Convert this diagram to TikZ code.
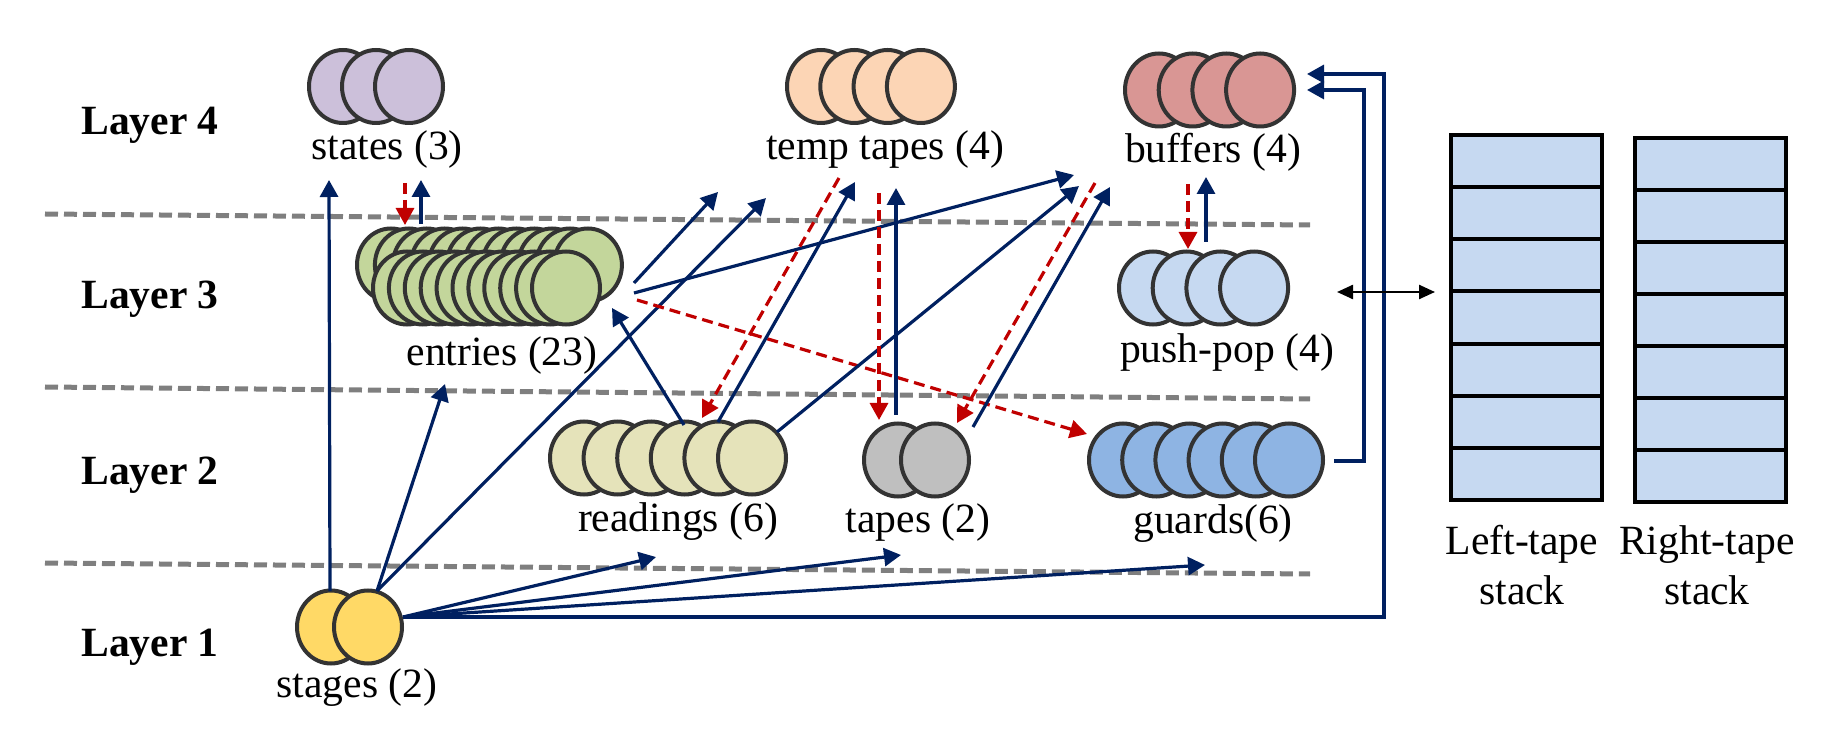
\documentclass[tikz,border=0pt]{standalone}
\usepackage{fontspec}
\setmainfont{Liberation Serif}
\usetikzlibrary{arrows.meta}

\definecolor{navy}{HTML}{002060}
\definecolor{darkred}{HTML}{C00000}
\definecolor{sepgray}{HTML}{7F7F7F}
\definecolor{edgegray}{HTML}{333333}
\definecolor{stackblue}{HTML}{C6D9F1}
\definecolor{cstates}{HTML}{CCC0DA}
\definecolor{ctemp}{HTML}{FCD5B5}
\definecolor{cbuf}{HTML}{D99694}
\definecolor{centry}{HTML}{C3D69B}
\definecolor{cpush}{HTML}{C6D9F1}
\definecolor{cread}{HTML}{E5E3BA}
\definecolor{ctape}{HTML}{BFBFBF}
\definecolor{cguard}{HTML}{8EB4E3}
\definecolor{cstage}{HTML}{FFD966}

\tikzset{
  ball/.style={draw=edgegray, line width=2pt, fill=#1},
  lbl/.style={font=\fontsize{20.8}{25}\selectfont, inner sep=0pt},
  layer/.style={font=\fontsize{20.8}{25}\selectfont\bfseries, inner sep=0pt},
  flow/.style={draw=navy, line width=1.6pt, -{Triangle[length=8.5pt,width=9pt]}},
  back/.style={draw=darkred, line width=1.6pt, dash pattern=on 5.5pt off 3pt, -{Triangle[length=8.5pt,width=9pt]}},
  sep/.style={draw=sepgray, line width=2.5pt, dash pattern=on 6.5pt off 3pt},
  cell/.style={draw=black, line width=2pt, fill=stackblue},
}

% row of overlapping circles: count, first x, y, step, fill
\newcommand{\balls}[5]{%
  \foreach \k in {1,...,#1}
    \draw[ball=#5] ({#2+#4*(\k-1)},#3) ellipse [x radius=17pt, y radius=18.25pt];
}

\begin{document}
\begin{tikzpicture}[x=0.5pt, y=-0.5pt]
\useasboundingbox (0,0) rectangle (1847,753);

% layer names
\node[layer] (L4) at (150,125) {Layer 4};
\node[layer] (L3) at (150,299) {Layer 3};
\node[layer] (L2) at (150,475) {Layer 2};
\node[layer] (L1) at (150,647) {Layer 1};

% layer borders
\draw[sep] (45,214) -- (1310,225);
\draw[sep] (45,387) -- (1310,399);
\draw[sep] (45,563) -- (1310,574);

% circle groups
\balls{3}{343}{86.5}{33}{cstates}
\balls{4}{821}{86.5}{33.3}{ctemp}
\balls{4}{1159}{90}{33.7}{cbuf}
\balls{12}{391}{265}{17.9}{centry}
\balls{11}{407}{288}{15.9}{centry}
\balls{4}{1153}{288}{33.7}{cpush}
\balls{6}{584}{458}{33.6}{cread}
\balls{2}{898}{460}{37}{ctape}
\balls{6}{1123}{460}{33.2}{cguard}
\balls{2}{331}{627}{37}{cstage}

% group names
\node[lbl] (states) at (387,150) {states (3)};
\node[lbl] (temptapes) at (885,150) {temp tapes (4)};
\node[lbl] (buffers) at (1213,152) {buffers (4)};
\node[lbl] (entries) at (502,355) {entries (23)};
\node[lbl] (pushpop) at (1227,352) {push-pop (4)};
\node[lbl] (readings) at (678,522) {readings (6)};
\node[lbl] (tapes) at (918,522) {tapes (2)};
\node[lbl] (guards) at (1213,524) {guards(6)};
\node[lbl] (stages) at (357,688) {stages (2)};

% stacks
\foreach \k in {0,...,6}
  \draw[cell] (1451,{135+52.14*\k}) rectangle ++(151,52.14);
\foreach \k in {0,...,6}
  \draw[cell] (1635,{138+52*\k}) rectangle ++(151,52);
\node[lbl, align=center] (lstack) at (1522,565) {Left-tape\\stack};
\node[lbl, align=center] (rstack) at (1707,565) {Right-tape\\stack};

% connector ends
\coordinate (stgV) at (330,591);
\coordinate (stgF) at (377,591);
\coordinate (stgR) at (403,617);
\coordinate (stIn) at (329,180);
\coordinate (enIn) at (445,384);
\coordinate (ttIn) at (766,198);
\coordinate (rdIn) at (656,557);
\coordinate (tpIn) at (901,555);
\coordinate (gdIn) at (1205,565);
\coordinate (bfA) at (1307,74);
\coordinate (bfB) at (1307,90);
\coordinate (gdOut) at (1334,461);
\coordinate (enA) at (634,283);
\coordinate (ttA) at (718,192);
\coordinate (enB) at (634,293);
\coordinate (bfC) at (1074,175);
\coordinate (enC) at (637,300);
\coordinate (gdA) at (1087,434);
\coordinate (rdA) at (684,425);
\coordinate (enD) at (612,308);
\coordinate (rdB) at (718,422);
\coordinate (ttB) at (855,182);
\coordinate (rdC) at (777,432);
\coordinate (bfD) at (1079,186);
\coordinate (ttC) at (839,178);
\coordinate (rdD) at (702,418);
\coordinate (tpA) at (896,415);
\coordinate (ttD) at (896,188);
\coordinate (ttE) at (879,193);
\coordinate (tpB) at (879,420);
\coordinate (tpC) at (973,427);
\coordinate (bfE) at (1110,187);
\coordinate (bfF) at (1095,183);
\coordinate (tpD) at (957,423);
\coordinate (bfG) at (1188,184);
\coordinate (ppA) at (1188,249);
\coordinate (ppB) at (1206,242);
\coordinate (bfH) at (1206,177);
\coordinate (ppC) at (1337,292);
\coordinate (lsA) at (1435,292);
\coordinate (stA) at (405,183);
\coordinate (enE) at (405,225);
\coordinate (enF) at (421,224);
\coordinate (stB) at (421,180);

% from stages
\draw[flow] (stgV) -- (stIn);
\draw[flow] (stgF) -- (enIn);
\draw[flow] (stgF) -- (ttIn);
\draw[flow] (stgR) -- (rdIn);
\draw[flow] (stgR) -- (tpIn);
\draw[flow] (stgR) -- (gdIn);
\draw[flow] (stgR) -- ++(981,0) |- (bfA);
\draw[flow] (gdOut) -- ++(30,0) |- (bfB);

% entries, readings, tapes
\draw[flow] (enA) -- (ttA);
\draw[flow] (enB) -- (bfC);
\draw[back] (enC) -- (gdA);
\draw[flow] (rdA) -- (enD);
\draw[flow] (rdB) -- (ttB);
\draw[flow] (rdC) -- (bfD);
\draw[back] (ttC) -- (rdD);
\draw[flow] (tpA) -- (ttD);
\draw[back] (ttE) -- (tpB);
\draw[flow] (tpC) -- (bfE);
\draw[back] (bfF) -- (tpD);

% buffers, push-pop, states
\draw[back] (bfG) -- (ppA);
\draw[flow] (ppB) -- (bfH);
\draw[back] (stA) -- (enE);
\draw[flow] (enF) -- (stB);
\draw[line width=1.2pt, {Triangle[length=8pt,width=7pt]}-{Triangle[length=8pt,width=7pt]}] (ppC) -- (lsA);
\end{tikzpicture}
\end{document}
